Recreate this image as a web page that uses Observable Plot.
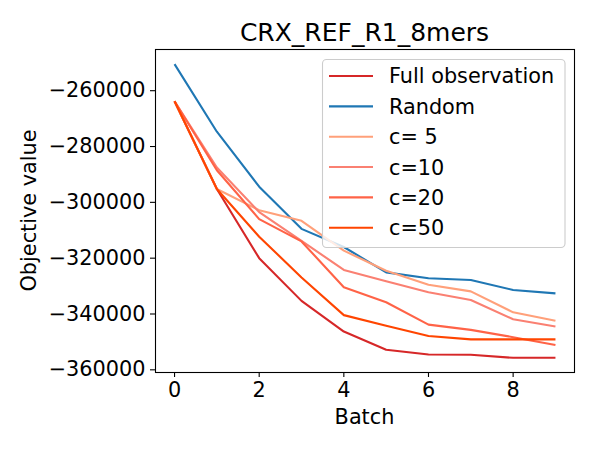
<!DOCTYPE html>
<html>
<head>
<meta charset="utf-8">
<script src="https://cdn.jsdelivr.net/npm/d3@7"></script>
<script src="https://cdn.jsdelivr.net/npm/@observablehq/plot@0.6"></script>
<style>
  html, body { margin: 0; padding: 0; background: white; }
  #chart svg { display: block; }
</style>
</head>
<body>
<div id="chart"></div>
<script>
// ---- data ----
const chartTitle = "CRX_REF_R1_8mers";
const xLabel = "Batch";
const yLabel = "Objective value";
const batches = [0, 1, 2, 3, 4, 5, 6, 7, 8, 9];
const seriesNames = ["Full observation", "Random", "c= 5", "c=10", "c=20", "c=50"];
const seriesColors = ["#d62728", "#1f77b4", "#ffa07a", "#fa8072", "#ff6347", "#ff4500"];
const fullObs = [-263800, -295200, -320000, -335300, -346300, -352800, -354500, -354600, -355700, -355700];
const randomSel = [-250500, -274700, -294400, -309500, -316000, -325100, -327200, -327800, -331400, -332600];
const c5 = [-263800, -295200, -302800, -306600, -317300, -324500, -329500, -331900, -339400, -342400];
const c10 = [-263800, -287500, -303500, -313800, -324200, -328300, -332200, -335000, -341900, -344500];
const c20 = [-263800, -288500, -306000, -314000, -330400, -335800, -343800, -345700, -348300, -351100];
const c50 = [-263800, -295200, -312300, -326900, -340400, -344200, -347900, -349100, -349100, -349100];
const xTicks = [0, 2, 4, 6, 8];
const yTicks = [-360000, -340000, -320000, -300000, -280000, -260000];

const seriesValues = [fullObs, randomSel, c5, c10, c20, c50];
const rows = [];
seriesNames.forEach((name, i) => {
  batches.forEach((b, j) => rows.push({series: name, batch: b, value: seriesValues[i][j]}));
});

// matplotlib-like 5% margins
const [xmin, xmax] = d3.extent(batches);
const [ymin, ymax] = d3.extent(rows, d => d.value);
const xpad = (xmax - xmin) * 0.05, ypad = (ymax - ymin) * 0.05;

const font = "'DejaVu Sans', sans-serif";
const fs = 20.8;

const svg = Plot.plot({
  width: 600,
  height: 450,
  marginLeft: 155,
  marginRight: 26,
  marginTop: 49,
  marginBottom: 78,
  style: {fontFamily: font, fontSize: fs + "px", background: "white", color: "black"},
  x: {domain: [xmin - xpad, xmax + xpad]},
  y: {domain: [ymin - ypad, ymax + ypad]},
  color: {domain: seriesNames, range: seriesColors},
  marks: [
    Plot.line(rows, {x: "batch", y: "value", z: "series", stroke: "series", strokeWidth: 2.1, strokeLinejoin: "round", strokeLinecap: "butt"}),
    Plot.frame({stroke: "black", strokeWidth: 1.1}),
    Plot.axisX({ticks: xTicks, tickFormat: d3.format("d"), tickSize: 5, tickPadding: 5, strokeWidth: 1.1, label: null, fontSize: fs}),
    Plot.axisY({ticks: yTicks, tickFormat: d3.format("d"), tickSize: 5, tickPadding: 5, strokeWidth: 1.1, label: null, fontSize: fs})
  ]
});

const s = d3.select(svg);
// title
s.append("text").attr("x", 364.5).attr("y", 41).attr("text-anchor", "middle")
  .attr("font-family", font).attr("font-size", 25).attr("fill", "black").text(chartTitle);
// axis labels
s.append("text").attr("x", 364.5).attr("y", 424).attr("text-anchor", "middle")
  .attr("font-family", font).attr("font-size", fs).attr("fill", "black").text(xLabel);
s.append("text").attr("transform", "translate(36,210.5) rotate(-90)").attr("text-anchor", "middle")
  .attr("font-family", font).attr("font-size", fs).attr("fill", "black").text(yLabel);

// legend
const lg = s.append("g").attr("text-anchor", "start");
lg.append("rect").attr("x", 322.5).attr("y", 59.5).attr("width", 242.5).attr("height", 188)
  .attr("rx", 4).attr("fill", "white").attr("fill-opacity", 0.8)
  .attr("stroke", "#cccccc").attr("stroke-width", 1.1);
seriesNames.forEach((name, i) => {
  const yy = 76 + i * 30.35;
  lg.append("line").attr("x1", 329).attr("x2", 373).attr("y1", yy).attr("y2", yy)
    .attr("stroke", seriesColors[i]).attr("stroke-width", 2.1);
  lg.append("text").attr("x", 389).attr("y", yy).attr("dy", "0.36em")
    .attr("text-anchor", "start")
    .attr("font-family", font).attr("font-size", fs).attr("fill", "black")
    .attr("xml:space", "preserve").style("white-space", "pre").text(name);
});

document.getElementById("chart").appendChild(svg);
</script>
</body>
</html>
